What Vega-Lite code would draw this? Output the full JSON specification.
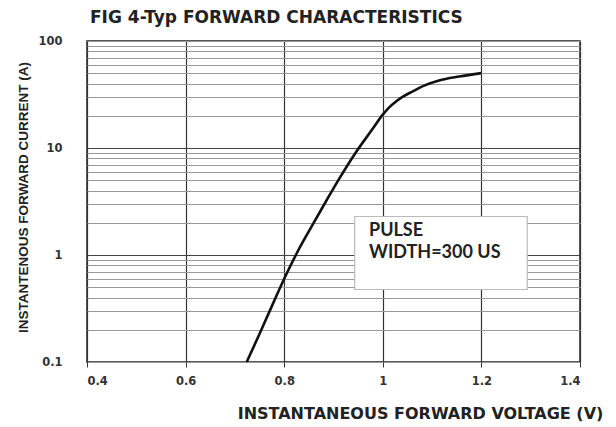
{
  "$schema": "https://vega.github.io/schema/vega-lite/v6.json",
  "width": 493,
  "height": 321,
  "autosize": {"type": "none"},
  "padding": {"left": 87, "top": 41, "right": 36, "bottom": 65},
  "background": "white",
  "config": {
    "view": {"stroke": "#222", "strokeWidth": 1.5},
    "font": "Liberation Sans"
  },
  "title": {
    "text": "FIG 4-Typ FORWARD CHARACTERISTICS",
    "anchor": "start",
    "frame": "group",
    "dx": 3,
    "offset": 8,
    "font": "DejaVu Sans",
    "fontSize": 17,
    "fontWeight": "bold",
    "color": "#222"
  },
  "datasets": {
    "curve": [
      {"v": 0.724, "i": 0.1},
      {"v": 0.748, "i": 0.175},
      {"v": 0.775, "i": 0.333},
      {"v": 0.8, "i": 0.6},
      {"v": 0.826, "i": 1.05},
      {"v": 0.856, "i": 1.86},
      {"v": 0.877, "i": 2.75},
      {"v": 0.9105, "i": 5.06},
      {"v": 0.9445, "i": 8.98},
      {"v": 0.978, "i": 14.8},
      {"v": 1.0, "i": 20.5},
      {"v": 1.013, "i": 24},
      {"v": 1.026, "i": 27},
      {"v": 1.04, "i": 30},
      {"v": 1.06, "i": 33.7},
      {"v": 1.085, "i": 38.5},
      {"v": 1.114, "i": 42.8},
      {"v": 1.155, "i": 46.6},
      {"v": 1.2, "i": 50.1}
    ],
    "box": [{"v": 0.943, "v2": 1.293, "i": 0.476, "i2": 2.29}],
    "notes": [
      {"v": 0.972, "i": 1.66, "t": "PULSE"},
      {"v": 0.972, "i": 1.04, "t": "WIDTH=300 US"}
    ]
  },
  "encoding": {
    "x": {
      "field": "v",
      "type": "quantitative",
      "scale": {"domain": [0.4, 1.4], "nice": false},
      "axis": {
        "values": [0.4, 0.6, 0.8, 1.0, 1.2, 1.4],
        "format": "~g",
        "grid": true,
        "gridColor": "#333",
        "gridWidth": 1.2,
        "gridOpacity": 1,
        "domain": false,
        "ticks": true,
        "tickSize": 5,
        "tickColor": "#333",
        "labelFont": "DejaVu Sans",
        "labelFontSize": 11.5,
        "labelFontWeight": "bold",
        "labelColor": "#333",
        "labelPadding": 8,
        "title": "INSTANTANEOUS FORWARD VOLTAGE (V)",
        "titleFont": "DejaVu Sans",
        "titleFontSize": 16,
        "titleFontWeight": "bold",
        "titleColor": "#222",
        "titleAlign": "center",
        "titleAnchor": null,
        "titleX": 333,
        "titleY": 56,
        "titleBaseline": "alphabetic"
      }
    },
    "y": {
      "field": "i",
      "type": "quantitative",
      "scale": {"type": "log", "domain": [0.1, 100], "nice": false},
      "axis": {
        "values": [0.1, 0.2, 0.3, 0.4, 0.5, 0.6, 0.7, 0.8, 0.9, 1, 2, 3, 4, 5, 6, 7, 8, 9, 10, 20, 30, 40, 50, 60, 70, 80, 90, 100],
        "labelExpr": "(datum.value == 0.1 || datum.value == 1 || datum.value == 10 || datum.value == 100) ? format(datum.value, '~g') : ''",
        "grid": true,
        "gridColor": {"condition": {"test": "datum.value == 1 || datum.value == 10", "value": "#444"}, "value": "#999"},
        "gridWidth": 1,
        "gridOpacity": 1,
        "domain": false,
        "ticks": false,
        "labelFont": "DejaVu Sans",
        "labelFontSize": 11.5,
        "labelFontWeight": "bold",
        "labelColor": "#333",
        "labelPadding": 25,
        "title": "INSTANTENOUS FORWARD CURRENT (A)",
        "titleFont": "Liberation Sans",
        "titleFontSize": 13.5,
        "titleFontWeight": "bold",
        "titleColor": "#222",
        "titleAnchor": null,
        "titleX": -64,
        "titleY": 156,
        "titleAngle": -90,
        "titleAlign": "center",
        "titleBaseline": "middle",
        "titleLimit": 400
      }
    }
  },
  "layer": [
    {
      "data": {"name": "curve"},
      "mark": {"type": "line", "color": "#111", "strokeWidth": 2.6, "interpolate": "monotone"}
    },
    {
      "data": {"name": "box"},
      "mark": {"type": "rect", "fill": "white", "stroke": "#bbb", "strokeWidth": 1.2},
      "encoding": {
        "x2": {"field": "v2"},
        "y2": {"field": "i2"}
      }
    },
    {
      "data": {"name": "notes"},
      "mark": {"type": "text", "align": "left", "baseline": "middle", "font": "Lato", "fontSize": 18, "fontWeight": "bold", "color": "#222"},
      "encoding": {
        "text": {"field": "t"}
      }
    }
  ]
}
